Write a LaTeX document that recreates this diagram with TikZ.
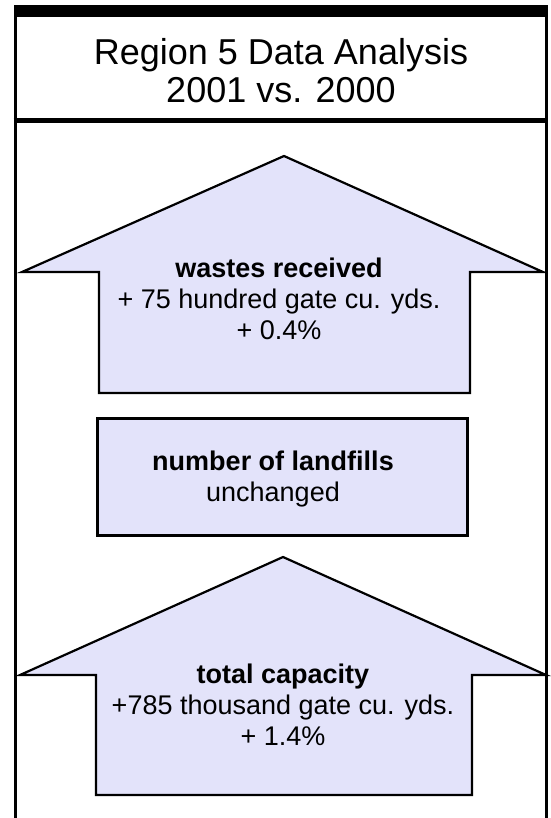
\documentclass[tikz,border=0pt]{standalone}
\usepackage{fontspec}
\setmainfont{Liberation Sans}
\definecolor{upfill}{RGB}{227,227,250}

\begin{document}
\begin{tikzpicture}[x=1pt,y=-1pt,
	panel/.style={draw=black,line width=2.2pt,fill=upfill,line join=miter},
	lbl/.style={align=center,inner sep=0pt,font=\fontsize{27}{31}\selectfont}]
	\useasboundingbox (0,0) rectangle (550,818);
	% frame and title
	\fill (13.5,5) rectangle (548,17);
	\draw[line width=3pt] (15,16) -- (15,818);
	\draw[line width=3pt] (546.5,16) -- (546.5,818);
	\draw[line width=5pt] (13.5,121) -- (548,121);
	\node[lbl,font=\fontsize{36}{38}\selectfont] (title) at (281,71) {Region 5 Data Analysis\\2001 vs. 2000};
	% wastes received
	\draw[panel] (99,393) -- (99,272) -- (22,272) -- (284,156) -- (543,272) -- (470,272) -- (470,393) -- cycle;
	\node[lbl] (wastes) at (279,299) {\textbf{wastes received}\\+ 75 hundred gate cu. yds.\\+ 0.4\%};
	% number of landfills
	\draw[panel,line width=3pt] (97,418) rectangle (467,535);
	\node[lbl] (landfills) at (273,479) {\textbf{number of landfills}\\unchanged};
	% total capacity
	\draw[panel] (96,795) -- (96,675) -- (20,675) -- (283,557) -- (546,675) -- (472,675) -- (472,795) -- cycle;
	\node[lbl] (capacity) at (283,705) {\textbf{total capacity}\\+785 thousand gate cu. yds.\\+ 1.4\%};
\end{tikzpicture}
\end{document}
